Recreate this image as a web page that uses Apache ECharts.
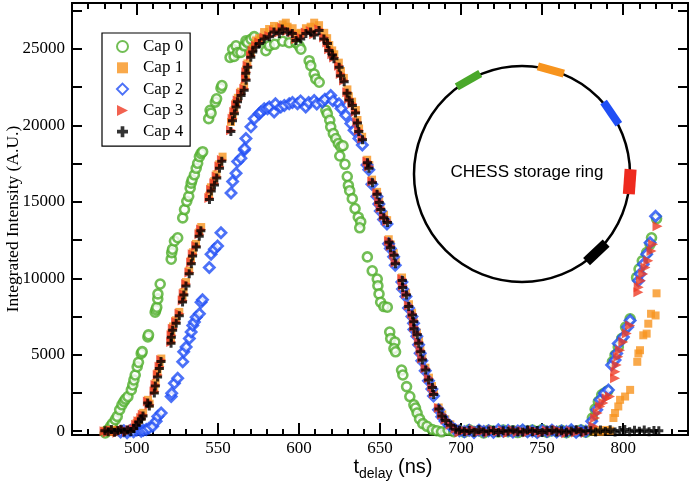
<!DOCTYPE html>
<html>
<head>
<meta charset="utf-8">
<script src="https://cdn.jsdelivr.net/npm/echarts@6/dist/echarts.min.js"></script>
<style>
  html, body { margin: 0; padding: 0; background: #fff; }
  #chart { width: 692px; height: 482px; }
</style>
</head>
<body>
<div id="chart"></div>
<script>
(function () {
  const capNames = ["Cap 0", "Cap 1", "Cap 2", "Cap 3", "Cap 4"];
  const capColors = ["#4fae2b", "#f7941e", "#1f4ef5", "#ef3b24", "#000000"];

  // tick positions
  const xMajor = [500, 550, 600, 650, 700, 750, 800];
  const xMinor = [470, 480, 490, 510, 520, 530, 540, 560, 570, 580, 590, 610, 620, 630, 640,
    660, 670, 680, 690, 710, 720, 730, 740, 760, 770, 780, 790, 810, 820, 830];
  const yLabels = [0, 5000, 10000, 15000, 20000, 25000];
  const yTicks = [0, 2500, 5000, 7500, 10000, 12500, 15000, 17500, 20000, 22500, 25000, 27500];

  // flat part between the two bunches (shared delay values)
  const tBase = [699, 702, 705, 708, 711, 714, 717, 720, 723, 726, 729, 732, 735, 738, 741, 744,
    747, 750, 753, 756, 759, 762, 765, 768, 771, 774, 777];
  const cap0Base = [40, -60, 90, -20, 30, -110, 60, 10, -50, 80, -30, 20, -90, 50, -10, 70, -40, 100, -70, 30, -20, 60, -100, 40, -30, 80, -60];
  const cap1Base = [-30, 70, -80, 40, -10, 90, -50, 20, 60, -90, 30, -40, 80, -20, 50, -70, 10, -60, 90, -30, 40, -80, 20, 70, -50, 10, 60];
  const cap2Base = [20, -40, 60, -90, 70, -20, 30, -70, 100, -10, 50, -60, 20, 80, -40, 10, -90, 60, -30, 70, -50, 20, -20, 90, -70, 30, -10];
  const cap3Base = [-80, 50, -20, 110, -60, 20, -100, 70, -30, 40, -120, 80, -50, 10, -90, 60, -20, -110, 40, -60, 90, -40, -130, 20, -80, 50, -100];
  const cap4Base = [60, -20, 40, -70, 90, -40, 10, 50, -80, 30, -10, 70, -30, -60, 80, -20, 40, -90, 20, 60, -50, 30, -70, 10, 90, -40, 20];

  const t1Tail = [780, 783, 786, 789, 792];
  const cap1Tail = [-20, 60, -40, 80, 30];
  const t4Tail = [780, 783, 786, 789, 792, 795, 798, 801, 804, 807, 810, 813, 816, 819, 822];
  const cap4Tail = [30, -50, 70, -20, 90, -60, 40, 110, -30, 60, -10, 80, -40, 50, 20];

  const cap0 = [
    [480.5, -120], [482, 80], [483.8, 318], [485, 500], [486.7, 753], [487.9, 967], [489.4, 1402],
    [490.8, 1726], [492, 1941], [493, 2100], [494.5, 2265], [496.6, 2700], [497.5, 3024], [498.2, 3349],
    [499, 3673], [500.2, 4212], [501, 4500], [502.7, 5082], [503.3, 5200], [506.8, 6159], [507.2, 6300],
    [511.3, 7782], [511.8, 7950], [512.3, 8106], [512.9, 8651], [513, 8976], [514.4, 9625],
    [521.2, 11247], [521.5, 11676], [522, 11900], [523.2, 12435], [525.2, 12649], [528.3, 13947],
    [529.4, 14492], [530.8, 15031], [532, 15356], [532.9, 15894], [533.5, 16219], [534.1, 16439],
    [535.5, 16764], [536.6, 17192], [537.5, 17517], [538.6, 17952], [539.6, 18166], [540.6, 18276],
    [544.3, 20437], [545.2, 20982], [545.8, 20800], [548.4, 21521], [549.2, 21735], [551.9, 22430],
    [552.5, 22605], [557.5, 24441], [559.1, 24980], [560, 24500], [561.2, 25200], [562.2, 24766],
    [564.2, 24766], [566.3, 25200], [567.3, 25525], [568.3, 25414], [570.4, 25631], [572.4, 25800],
    [576, 25500], [579.6, 24876], [581.7, 25200], [585, 25300], [590, 25500], [594, 25400],
    [598.1, 25414], [600.1, 25200], [601.2, 24980], [606.3, 24228], [607.3, 23903], [609.4, 23358],
    [610.4, 23033], [612.5, 22819], [616.6, 20982], [617.5, 20760], [619, 20334], [619.6, 19900],
    [621.2, 19464], [622.7, 19139], [624.3, 18815], [625.8, 18600], [627.2, 18665], [625.2, 17996],
    [628.4, 17452], [629.8, 16653], [630.5, 16069], [631.3, 15724], [632.9, 15206], [634.6, 14557],
    [636.6, 13992], [638.1, 13687], [637.5, 13298], [642.2, 11396], [645.2, 10488], [648.3, 9949],
    [648.7, 9514], [649.4, 8976], [650.4, 8431], [652.4, 8151], [654.5, 8106], [656, 6483],
    [656.6, 6055], [659.2, 5834], [658.6, 5406], [659.6, 5190], [663.3, 3998], [664.1, 3673],
    [666.4, 2914], [668.4, 2265], [670.9, 1726], [671.9, 1512], [672.9, 1188], [674.4, 798],
    [676.4, 493], [679, 318], [682.2, 104], [685, 30], [688, -40], [692, 60], [695.5, -30],
    [780.5, 100], [781, 863], [782.7, 1447], [784.7, 1941], [786.8, 2375], [788.5, 2500], [790.5, 2635],
    [793.4, 4536], [795, 4971], [797, 5510], [799.1, 6055], [801.5, 6808], [804.3, 7353],
    [808.3, 10053], [809.8, 10598], [811.8, 11137], [814.5, 11676], [816.6, 12221], [817.5, 12649],
    [820.6, 13900]
  ];

  const cap1 = [
    [480.5, 40], [482.5, -60], [484.5, 90], [486.5, -20], [488.5, 70], [490.5, -90], [492.5, 60],
    [494.5, 20], [496.5, 110], [498.3, 230], [499.8, 520], [501.2, 700], [502.9, 950], [503.9, 1200],
    [506.9, 2050], [507.9, 1800], [510.8, 2700], [511.6, 3150], [512.8, 3800], [514.1, 4300],
    [515.1, 4750], [521.1, 5950], [521.3, 6400], [522.3, 6850], [524.1, 7250], [526.2, 7800],
    [528.2, 8650], [528.8, 9100], [530.3, 9750], [532.3, 10500], [533.4, 11150], [534.6, 11700],
    [536.5, 12250], [538.5, 13000], [539.7, 13350], [544.6, 15400], [545.7, 15950], [547.7, 16350],
    [549.1, 16800], [550.8, 17450], [552.9, 17952], [558.1, 20223], [559.2, 20600], [560.2, 21000],
    [561.1, 21450], [562.3, 21800], [564.1, 22200], [566.2, 22550], [567.2, 23200], [567.4, 23650],
    [568.2, 24050], [570.3, 24700], [571.5, 25050], [573.4, 25550], [575.4, 25700], [578.5, 26100],
    [581.6, 26300], [584.6, 26500], [587.7, 26400], [589.9, 26600], [591.9, 26713], [593, 26450],
    [596.1, 26350], [598.2, 26000], [601.1, 26050], [604.3, 26350], [607.2, 26450], [609.4, 26713],
    [612.4, 26550], [615.6, 26050], [617.4, 25700], [618.7, 25250], [620.5, 24900], [621.8, 24650],
    [624.6, 24100], [625.9, 23550], [627.7, 23100], [629.9, 22350], [630.8, 21900], [632.8, 21550],
    [635.1, 21000], [636.1, 20350], [637.1, 19800], [639, 19250], [642.1, 17750], [643.4, 17400],
    [645.1, 16450], [648.2, 15650], [649.5, 15150], [650.3, 14700], [652.5, 14150], [654.4, 13800],
    [655.4, 12550], [656.7, 12200], [658.5, 11650], [659.7, 11100], [663.6, 10050], [664.2, 9600],
    [666.1, 9050], [667.9, 8300], [669.8, 7750], [670.8, 7300], [671, 6900], [672.8, 6450],
    [674.1, 5900], [674.9, 5350], [676.1, 4800], [678, 4150], [680.2, 3500], [682.1, 2950],
    [683.3, 2550], [686.2, 1550], [688.4, 1100], [690.3, 780], [693.4, 450], [696.5, 170],
    [794, 863], [795, 1188], [797, 1617], [798.1, 2051], [801.2, 2265], [804.3, 2700],
    [808.7, 4536], [809.4, 5082], [810.4, 5296], [812.4, 6269], [814.5, 6380], [815.5, 7029],
    [817.2, 7678], [820, 7567], [820.6, 9015]
  ];

  const cap2 = [
    [490, -60], [492, 30], [494, -100], [496, 50], [498, -40], [500, 80], [502.7, 0], [504, 60],
    [505.8, 104], [507.5, 200], [509.8, 318], [511.9, 643], [512.9, 967], [515, 1188], [521.2, 2265],
    [521.5, 2486], [523.2, 3135], [525.2, 3459], [528.3, 4536], [528.9, 5190], [530.4, 5510],
    [532.4, 6055], [533.5, 6483], [534.5, 6918], [535.5, 7132], [536.6, 7457], [538.6, 7678],
    [539.6, 8431], [540.5, 8600], [544.7, 10702], [545.8, 11571], [547.8, 11896], [549.8, 12110],
    [551.9, 12974], [558.1, 15570], [559.1, 16329], [561.2, 16868], [562.2, 17627], [564.2, 17841],
    [566.3, 18386], [566.5, 18490], [567.3, 19139], [570.4, 19900], [572.4, 20437], [575.5, 20760],
    [576.5, 20872], [578.6, 21086], [580.6, 21086], [581.7, 21196], [584.7, 20872], [585.5, 21411],
    [588.8, 21196], [591, 21300], [594, 21411], [596, 21500], [599.1, 21411], [601, 21600],
    [604.2, 21196], [606, 21500], [609.4, 21631], [611, 21400], [614.5, 21521], [616, 21700],
    [619.6, 21955], [621, 21600], [624.7, 21411], [626, 21100], [628.9, 20657], [632, 20112],
    [634, 19684], [637, 19139], [639.1, 18711], [642, 17400], [643.1, 17100], [645, 16150],
    [648.1, 15350], [649.3, 14850], [650.2, 14400], [652.2, 13850], [654.3, 13550], [655.3, 12250],
    [656.4, 11950], [658.4, 11400], [659.4, 10850], [663.5, 9750], [663.9, 9300], [666, 8800],
    [667.6, 8050], [669.7, 7500], [670.7, 7050], [670.9, 6650], [672.7, 6200], [673.8, 5650],
    [674.8, 5100], [675.8, 4600], [677.9, 3950], [679.9, 3300], [682, 2750], [683, 2300],
    [686.1, 1400], [688.1, 950], [690.2, 650], [693.3, 350], [696.4, 100],
    [780.6, 643], [783.7, 1402], [785.8, 2051], [788.4, 2486], [790.9, 2700], [792.9, 4322],
    [795, 4647], [796, 5082], [797, 5731], [800.1, 6159], [802.8, 6808], [804.3, 7243],
    [809.4, 9839], [810.4, 10274], [812.4, 10923], [814.5, 11571], [816.6, 12325], [820, 14057]
  ];

  const cap3 = [
    [480.1, 0], [482, -80], [484, 60], [486, 20], [488, -100], [490, 50], [492, 100], [494, -30],
    [496, 80], [498, 150], [499.6, 428], [501, 650], [502.7, 863], [503.7, 1078], [506.8, 1941],
    [507.8, 1726], [510.9, 2590], [511.5, 3024], [512.9, 3673], [514, 4212], [515, 4647],
    [521.2, 5834], [521.4, 6269], [522.2, 6704], [524.2, 7132], [526.3, 7678], [528.3, 8541],
    [528.9, 8976], [530.4, 9625], [532.4, 10378], [533.5, 11027], [534.5, 11571], [536.6, 12110],
    [538.6, 12870], [539.6, 13194], [544.7, 15245], [545.8, 15790], [547.8, 16219], [549.2, 16653],
    [550.9, 17302], [552.5, 17737], [558.1, 19684], [559.1, 20437], [560.1, 20872], [561.2, 21306],
    [562.2, 21631], [564.2, 22060], [566.3, 22385], [567.3, 23033], [567.5, 23468], [568.3, 23903],
    [570.4, 24550], [571.4, 24876], [573.5, 25200], [575.5, 25414], [578.6, 25739], [581.7, 25850],
    [584.7, 26174], [587.8, 26064], [589.8, 26389], [592.9, 26174], [596, 26064], [598.1, 25631],
    [601.2, 25739], [604.2, 26064], [607.3, 26174], [609.4, 25955], [612.5, 26279], [615.5, 25739],
    [617.5, 25414], [618.6, 24980], [620.6, 24655], [621.7, 24441], [624.7, 23903], [625.8, 23358],
    [627.8, 22930], [629.8, 22170], [630.9, 21735], [632.9, 21411], [635, 20872], [636, 20223],
    [637, 19684], [639.1, 19139], [642.2, 17627], [643.3, 17302], [645.2, 16329], [648.3, 15570],
    [649.4, 15031], [650.4, 14596], [652.4, 14057], [654.5, 13733], [655.5, 12435], [656.6, 12110],
    [658.6, 11571], [659.6, 11027], [663.7, 9949], [664.1, 9514], [666.2, 8976], [667.8, 8216],
    [669.9, 7678], [670.9, 7243], [671.1, 6808], [672.9, 6380], [674, 5834], [675, 5296],
    [676, 4757], [678.1, 4108], [680.1, 3459], [682.2, 2914], [683.2, 2486], [686.3, 1512],
    [688.3, 1078], [690.4, 753], [693.5, 428], [696.6, 149],
    [781.7, 318], [782.7, 863], [784.3, 1188], [785.8, 1617], [787.8, 1837], [789.8, 2161],
    [791.9, 2265], [795, 3459], [795.2, 3888], [796, 4322], [797, 4861], [798.1, 5296],
    [800.1, 5834], [802.2, 6380], [804.3, 6918], [809.4, 9080], [809.6, 9404], [811, 9839],
    [812.4, 10274], [813.8, 10702], [815.5, 11137], [817.5, 11786], [818.5, 12221], [821.2, 13408]
  ];

  const cap4 = [
    [480.3, 20], [482.3, -40], [484.3, 110], [486.3, -70], [488.3, 40], [490.3, 120], [492.3, -50],
    [494.3, 70], [496.3, -20], [498.1, 180], [499.7, 380], [501.1, 600], [502.8, 800], [503.8, 1000],
    [506.7, 1850], [507.7, 1650], [510.8, 2500], [511.4, 2950], [512.8, 3550], [513.9, 4100],
    [514.9, 4550], [521.1, 5750], [521.3, 6150], [522.1, 6600], [524.3, 7050], [526.2, 7550],
    [528.2, 8450], [529, 8900], [530.3, 9500], [532.3, 10300], [533.6, 10950], [534.4, 11450],
    [536.7, 12050], [538.5, 12750], [539.5, 13100], [544.8, 15150], [545.9, 15700], [547.9, 16100],
    [549.3, 16550], [551, 17200], [552.4, 17650], [558, 19600], [559, 20300], [560.2, 20750],
    [561.3, 21200], [562.1, 21550], [564.3, 21950], [566.2, 22300], [567.4, 22950], [567.2, 23400],
    [568.4, 23800], [570.3, 24450], [571.5, 24800], [573.4, 25100], [575.6, 25350], [578.5, 25650],
    [581.8, 25800], [584.6, 26100], [587.9, 26000], [589.7, 26300], [593, 26100], [595.9, 26000],
    [598.2, 25550], [601.1, 25650], [604.3, 26000], [607.2, 26100], [609.5, 25900], [612.4, 26200],
    [615.4, 25650], [617.6, 25350], [618.5, 24900], [620.7, 24600], [621.6, 24350], [624.8, 23800],
    [625.7, 23250], [627.9, 22850], [629.7, 22100], [631, 21650], [633, 21300], [634.9, 20800],
    [636.1, 20150], [636.9, 19600], [639.2, 19050], [642.3, 17550], [643.2, 17200], [645.3, 16250],
    [648.2, 15500], [649.5, 14950], [650.5, 14500], [652.3, 13950], [654.6, 13650], [655.6, 12350],
    [656.5, 12000], [658.7, 11500], [659.5, 10950], [663.8, 9850], [664, 9400], [666.3, 8900],
    [667.7, 8150], [670, 7600], [670.8, 7150], [671, 6700], [673, 6300], [673.9, 5750], [675.1, 5200],
    [676.1, 4650], [678.2, 4000], [680, 3350], [682.3, 2850], [683.1, 2400], [686.4, 1450],
    [688.2, 1000], [690.5, 700], [693.6, 380], [696.7, 120]
  ];

  function zip(xs, ys) {
    return xs.map((x, i) => [x, ys[i]]);
  }

  const seriesData = [
    cap0.concat(zip(tBase, cap0Base)),
    cap1.concat(zip(tBase, cap1Base), zip(t1Tail, cap1Tail)),
    cap2.concat(zip(tBase, cap2Base)),
    cap3.concat(zip(tBase, cap3Base)),
    cap4.concat(zip(tBase, cap4Base), zip(t4Tail, cap4Tail)),
  ];

  const symbols = [
    "circle",
    "rect",
    "diamond",
    "path://M0,0L10,5L0,10Z",
    "path://M3,0H6V3H9V6H6V9H3V6H0V3H3Z",
  ];
  const sizes = [9, 8, 10, 10, 9];
  const styles = [
    { color: "#ffffff", borderColor: capColors[0], borderWidth: 2.6 },
    { color: capColors[1] },
    { color: "#ffffff", borderColor: capColors[2], borderWidth: 2.8 },
    { color: capColors[3] },
    { color: capColors[4] },
  ];

  const serif = "'Liberation Serif', 'DejaVu Serif', serif";
  const sans = "'Liberation Sans', Arial, sans-serif";
  const axisColor = "#000";

  function xAxisDef(pos, ticks, len, withLabel) {
    return {
      type: "value",
      min: 460,
      max: 840,
      position: pos,
      axisLine: { show: true, onZero: false, lineStyle: { color: axisColor, width: 2 } },
      axisTick: { show: true, inside: true, length: len, customValues: ticks, lineStyle: { color: axisColor, width: 2 } },
      axisLabel: withLabel
        ? { show: true, customValues: xMajor, color: "#000", fontFamily: serif, fontSize: 17, margin: 5,
            formatter: (v) => String(v) }
        : { show: false },
      splitLine: { show: false },
    };
  }

  function yAxisDef(pos, withLabel) {
    return {
      type: "value",
      min: -250,
      max: 28000,
      position: pos,
      axisLine: { show: true, onZero: false, lineStyle: { color: axisColor, width: 2 } },
      axisTick: { show: true, inside: true, length: 10, customValues: yTicks, lineStyle: { color: axisColor, width: 2 } },
      axisLabel: withLabel
        ? { show: true, customValues: yLabels, color: "#000", fontFamily: serif, fontSize: 17, margin: 7,
            formatter: (v) => String(v) }
        : { show: false },
      splitLine: { show: false },
    };
  }

  const xAxes = [
    xAxisDef("bottom", xMajor, 12, true),
    xAxisDef("bottom", xMinor, 6, false),
    xAxisDef("top", xMajor, 12, false),
    xAxisDef("top", xMinor, 6, false),
  ];
  xAxes[0].name = "{t|t}{s|delay}{t| (ns)}";
  xAxes[0].nameLocation = "middle";
  xAxes[0].nameGap = 22;
  xAxes[0].nameMoveOverlap = false;
  xAxes[0].nameTextStyle = {
    padding: [0, 0, 0, 26],
    rich: {
      t: { fontFamily: sans, fontSize: 20, color: "#000", lineHeight: 24, verticalAlign: "top" },
      s: { fontFamily: sans, fontSize: 14, color: "#000", lineHeight: 24, verticalAlign: "bottom" },
    },
  };

  const yAxes = [yAxisDef("left", true), yAxisDef("right", false)];
  yAxes[0].name = "Integrated Intensity (A.U.)";
  yAxes[0].nameLocation = "middle";
  yAxes[0].nameGap = 50;
  yAxes[0].nameMoveOverlap = false;
  yAxes[0].nameTextStyle = { fontFamily: serif, fontSize: 17.5, color: "#000" };

  // storage ring sketch (annotation)
  const ring = { cx: 522, cy: 174, r: 108 };
  const ringMarks = [
    { angle: 119.7, color: "#4aa82a", len: 27, thick: 8 },
    { angle: 74.5, color: "#f7941e", len: 27, thick: 8 },
    { angle: 34.3, color: "#1f4ef5", len: 27, thick: 8 },
    { angle: -4.1, color: "#ee2a1e", len: 25, thick: 12 },
    { angle: -46.5, color: "#000000", len: 27, thick: 10 },
  ];
  const graphics = [
    {
      type: "circle",
      shape: { cx: ring.cx, cy: ring.cy, r: ring.r },
      style: { fill: "none", stroke: "#000", lineWidth: 2.5 },
      silent: true,
      z: 1,
    },
    {
      type: "text",
      style: {
        text: "CHESS storage ring",
        x: 527,
        y: 172,
        font: "17px " + sans,
        fill: "#000",
        textAlign: "center",
        textVerticalAlign: "middle",
      },
      silent: true,
      z: 1,
    },
  ];
  ringMarks.forEach((m) => {
    const a = (m.angle * Math.PI) / 180;
    graphics.push({
      type: "rect",
      x: ring.cx + ring.r * Math.cos(a),
      y: ring.cy - ring.r * Math.sin(a),
      rotation: a + Math.PI / 2,
      shape: { x: -m.len / 2, y: -m.thick / 2, width: m.len, height: m.thick },
      style: { fill: m.color },
      silent: true,
      z: 2,
    });
  });

  const chart = echarts.init(document.getElementById("chart"), null, { renderer: "canvas" });
  chart.setOption({
    animation: false,
    backgroundColor: "#fff",
    grid: { left: 72, right: 4, top: 3, bottom: 47, containLabel: false, outerBoundsMode: "none" },
    xAxis: xAxes,
    yAxis: yAxes,
    legend: {
      show: true,
      orient: "vertical",
      left: 102,
      top: 33,
      padding: [5, 7, 6, 14],
      itemGap: 4.3,
      itemWidth: 11,
      itemHeight: 11,
      borderColor: "#000",
      borderWidth: 1.2,
      backgroundColor: "#fff",
      selectedMode: false,
      data: capNames,
      formatter: (name) => "{p|" + name + "}",
      textStyle: {
        color: "#000",
        fontFamily: serif,
        fontSize: 17,
        rich: { p: { padding: [0, 0, 0, 10], fontFamily: serif, fontSize: 17, color: "#000", lineHeight: 17 } },
      },
    },
    graphic: graphics,
    series: capNames.map((name, i) => ({
      name: name,
      type: "scatter",
      xAxisIndex: 0,
      yAxisIndex: 0,
      symbol: symbols[i],
      symbolSize: sizes[i],
      itemStyle: styles[i],
      emphasis: { disabled: true },
      data: seriesData[i],
      z: 3 + i,
    })),
  });
})();
</script>
</body>
</html>
